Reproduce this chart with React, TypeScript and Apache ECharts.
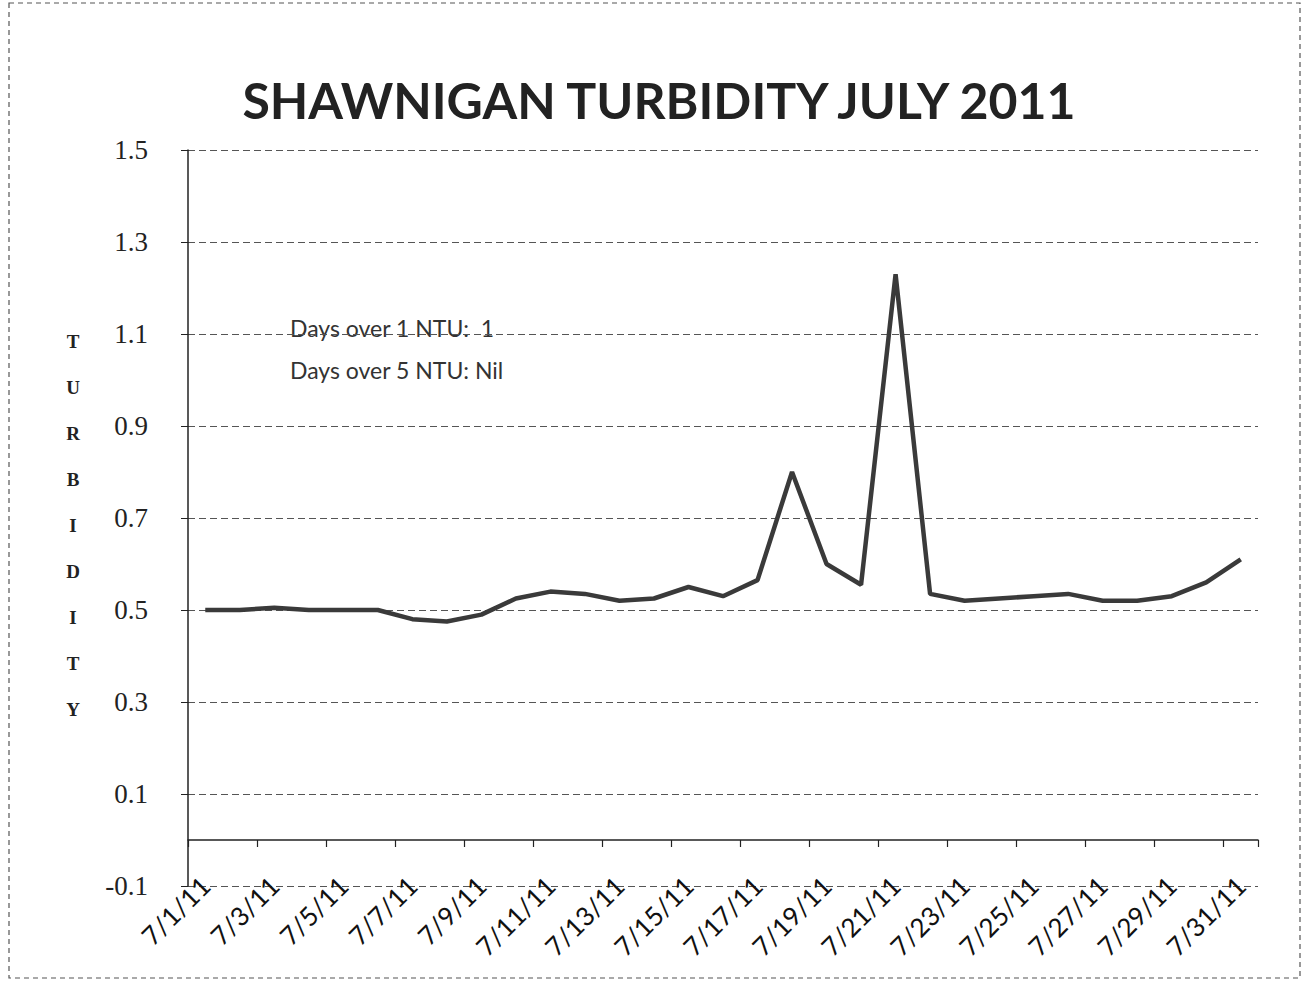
import React, { useEffect, useRef } from "react";
import * as echarts from "echarts";

const dates = [
  "7/1/11", "7/2/11", "7/3/11", "7/4/11", "7/5/11", "7/6/11", "7/7/11", "7/8/11",
  "7/9/11", "7/10/11", "7/11/11", "7/12/11", "7/13/11", "7/14/11", "7/15/11", "7/16/11",
  "7/17/11", "7/18/11", "7/19/11", "7/20/11", "7/21/11", "7/22/11", "7/23/11", "7/24/11",
  "7/25/11", "7/26/11", "7/27/11", "7/28/11", "7/29/11", "7/30/11", "7/31/11",
];

const turbidity = [
  0.5, 0.5, 0.505, 0.5, 0.5, 0.5, 0.48, 0.475,
  0.49, 0.525, 0.54, 0.535, 0.52, 0.525, 0.55, 0.53,
  0.565, 0.8, 0.6, 0.555, 1.23, 0.535, 0.52, 0.525,
  0.53, 0.535, 0.52, 0.52, 0.53, 0.56, 0.61,
];

const yTickValues = [-0.1, 0.1, 0.3, 0.5, 0.7, 0.9, 1.1, 1.3, 1.5];

const titleText = "SHAWNIGAN TURBIDITY JULY 2011";
const axisTitleLetters = ["T", "U", "R", "B", "I", "D", "I", "T", "Y"];
const noteLines = ["Days over 1 NTU:  1", "Days over 5 NTU: Nil"];

export default function App() {
  const ref = useRef<HTMLDivElement>(null);

  useEffect(() => {
    if (!ref.current) return;
    const chart = echarts.init(ref.current, null, { renderer: "svg" });
    const sans = "Lato, 'Open Sans', sans-serif";
    const serif = "'Liberation Serif', 'DejaVu Serif', serif";
    const gridLine = { show: true, lineStyle: { color: "#555", width: 1.2, type: [7, 4] as any } };

    chart.setOption({
      animation: false,
      backgroundColor: "#fff",
      title: {
        text: titleText,
        left: 654,
        textAlign: "center",
        top: 70,
        textStyle: { fontFamily: sans, fontWeight: "bold", fontSize: 50, color: "#222" },
      },
      grid: { left: 188, right: 46, top: 150, bottom: 99, containLabel: false, outerBoundsMode: "none" },
      xAxis: [
        {
          type: "category",
          data: dates,
          boundaryGap: true,
          axisLine: { show: true, onZero: true, lineStyle: { color: "#222", width: 1.5 } },
          axisTick: { show: true, interval: 1, length: 7, lineStyle: { color: "#222", width: 1.2 } },
          axisLabel: { show: false },
          splitLine: { show: false },
        },
        {
          type: "category",
          data: dates,
          boundaryGap: true,
          position: "bottom",
          axisLine: { show: false, onZero: false },
          axisTick: { show: false },
          axisLabel: {
            show: true,
            interval: 1,
            rotate: 45,
            margin: -5,
            fontFamily: sans,
            fontSize: 26,
            color: "#111",
          },
          splitLine: { show: false },
        },
      ],
      yAxis: {
        type: "value",
        min: yTickValues[0],
        max: yTickValues[yTickValues.length - 1],
        interval: 0.2,
        axisLine: { show: true, lineStyle: { color: "#222", width: 1.5 } },
        axisTick: { show: true, length: 7, lineStyle: { color: "#222" } },
        axisLabel: {
          margin: 40,
          fontFamily: serif,
          fontSize: 27,
          color: "#222",
          formatter: (v: number) => v.toFixed(1),
        },
        splitLine: gridLine,
      },
      graphic: [
        {
          type: "rect",
          shape: { x: 9, y: 3, width: 1291, height: 975 },
          style: { fill: "none", stroke: "#555", lineWidth: 1.2, lineDash: [5, 4] },
          silent: true,
        },
        {
          type: "text",
          x: 73,
          y: 525,
          style: {
            text: axisTitleLetters.join("\n"),
            fontFamily: serif,
            fontWeight: "bold",
            fontSize: 19,
            lineHeight: 46,
            fill: "#222",
            align: "center",
            verticalAlign: "middle",
          },
        },
        {
          type: "text",
          x: 290,
          y: 349,
          style: {
            text: noteLines.join("\n"),
            fontFamily: sans,
            fontSize: 23,
            lineHeight: 42,
            fill: "#333",
            align: "left",
            verticalAlign: "middle",
          },
        },
      ],
      series: [
        {
          type: "line",
          xAxisIndex: 0,
          data: turbidity,
          smooth: false,
          symbol: "none",
          lineStyle: { color: "#3a3a3a", width: 4.5 },
        },
      ],
    });
    return () => chart.dispose();
  }, []);

  return (
    <div
      ref={ref}
      style={{ position: "fixed", left: 0, top: 0, width: 1304, height: 985 }}
    />
  );
}
